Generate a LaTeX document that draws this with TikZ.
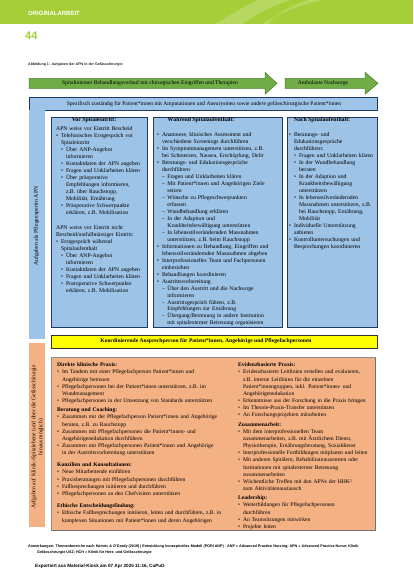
\documentclass[tikz,border=0pt]{standalone}
\usepackage{fontspec}
\setmainfont{Liberation Serif}
\setsansfont{Liberation Sans}
\definecolor{hdrgreen}{HTML}{A6CE39}
\definecolor{arrgreen}{HTML}{70AD47}
\definecolor{arrline}{HTML}{4E7A2E}
\definecolor{boxblue}{HTML}{9DC3E6}
\definecolor{blueline}{HTML}{1F3864}
\definecolor{boxorange}{HTML}{F4B183}
\definecolor{orangeline}{HTML}{8C8C8C}
\definecolor{baryellow}{HTML}{FFFF00}
\newcommand{\Ia}[1]{\par\noindent\hangindent=4.8pt\hangafter=1\makebox[4.8pt][l]{\textbullet}#1\par}
\newcommand{\Ib}[1]{\par\noindent\hangindent=9.8pt\hangafter=1\hspace*{5pt}\makebox[4.8pt][l]{\textbullet}#1\par}
\newcommand{\Ic}[1]{\par\noindent\hangindent=10.2pt\hangafter=1\hspace*{5pt}\makebox[5.2pt][l]{–}#1\par}
\newcommand{\nl}{\newline}
\tikzset{
  bluebox/.style={fill=boxblue, draw=blueline, line width=0.6pt},
  orangebox/.style={fill=boxorange, draw=orangeline, line width=0.4pt},
  arrowshape/.style={fill=arrgreen, draw=arrline, line width=0.5pt},
  btxt/.style={inner sep=0pt, anchor=base west, align=left, text width=#1, font=\fontsize{5.7}{6.98}\selectfont},
  otxt/.style={inner sep=0pt, anchor=base west, align=left, text width=#1, font=\fontsize{5.6}{7.15}\selectfont},
  boxhead/.style={inner sep=0pt, anchor=base, font=\bfseries\fontsize{5.8}{7.2}\selectfont},
  bartxt/.style={inner sep=0pt, font=\fontsize{5.6}{7}\selectfont},
  foot/.style={inner sep=0pt, anchor=base west, font=\sffamily\bfseries\fontsize{3.7}{4}\selectfont},
}
\begin{document}
\begin{tikzpicture}[x=1pt,y=-1pt]
\useasboundingbox (0,0) rectangle (413,585);
\fill[white] (0,0) rectangle (413,585);
% header
\fill[hdrgreen] (0,0) rectangle (413,24);
\fill[white, opacity=0.2] (215,24) .. controls (232,14) and (245,6) .. (258,0) -- (290,0) .. controls (272,6) and (255,15) .. (242,24) -- cycle;
\fill[white, opacity=0.2] (262,24) .. controls (282,12) and (300,5) .. (322,0) -- (308,0) .. controls (290,6) and (276,14) .. (268,24) -- cycle;
\node[anchor=west, inner sep=0pt, text=white, font=\sffamily\bfseries\fontsize{6}{6}\selectfont] (hdr) at (28,13.3) {ORIGINALARBEIT};
\node[anchor=west, inner sep=0pt, text=hdrgreen, font=\sffamily\bfseries\fontsize{11}{11}\selectfont] (pg) at (25,35.7) {44};
\node[anchor=west, inner sep=0pt, text=black!85, font=\sffamily\bfseries\fontsize{3.6}{4}\selectfont] (title) at (28,64.3) {Abbildung 1: Aufgaben der APN in der Gefässchirurgie};
% arrows
\draw[arrowshape] (29,78.3) -- (265,78.3) -- (265,72.3) -- (277,83.3) -- (265,94.3) -- (265,88.3) -- (29,88.3) -- cycle;
\node[bartxt] (a1) at (150,83.3) {Spitalinterner Behandlungsverlauf mit chirurgischen Eingriffen und Therapien};
\draw[arrowshape] (285,78.3) -- (365,78.3) -- (365,72.3) -- (378,83.3) -- (365,94.3) -- (365,88.3) -- (285,88.3) -- cycle;
\node[bartxt] (a2) at (323,83.3) {Ambulante Nachsorge};
% blue bar
\draw[bluebox, line width=0.4pt] (29,97) rectangle (377,110.5);
\draw[blueline, line width=0.8pt] (377,97) -- (377,110.5) -- (29,110.5);
\node[bartxt] (bb) at (204,103.7) {Spezifisch zuständig für Patient*innen mit Amputationen und Aneurysmen sowie andere gefässchirurgische Patient*innen};
% blue strip
\fill[boxblue] (29,110.5) rectangle (45,339);
\node[inner sep=0pt, rotate=90, font=\fontsize{5.8}{7.2}\selectfont] (bs) at (36.5,226) {Aufgaben als Pflegeexpertin APN};
% blue boxes
\draw[bluebox] (51,117) rectangle (147,327);
\draw[bluebox] (153,117) rectangle (282,327);
\draw[bluebox] (287,117) rectangle (377,327);
\node[boxhead] (lh) at (94,121.8) {Vor Spitaleintritt:};
\node[boxhead] (mh) at (201,121.8) {Während Spitalaufenthalt:};
\node[boxhead] (rh) at (322,121.8) {Nach Spitalaufenthalt:};
\node[btxt=92pt] (lb1) at (56,130.5) {APN weiss vor Eintritt Bescheid
\Ia{Telefonisches Erstgespräch vor\nl Spitaleintritt}
\Ib{Über ANP-Angebot\nl informieren}
\Ib{Kontaktdaten der APN angeben}
\Ib{Fragen und Unklarheiten klären}
\Ib{Über präoperative\nl Empfehlungen informieren,\nl z.B. über Rauchstopp,\nl Mobilität, Ernährung}
\Ib{Präoperative Schwerpunkte\nl erklären, z.B. Mobilisation}};
\node[btxt=92pt] (lb2) at (56,229.5) {APN weiss vor Eintritt nicht\nl Bescheid/notfallmässiger Eintritt:
\Ia{Erstgespräch während\nl Spitalaufenthalt}
\Ib{Über ANP-Angebot\nl informieren}
\Ib{Kontaktdaten der APN angeben}
\Ib{Fragen und Unklarheiten klären}
\Ib{Postoperative Schwerpunkte\nl erklären, z.B. Mobilisation}};
\node[btxt=128pt] (mb) at (157,129.5) {\Ia{Anamnese, klinisches Assessment und\nl verschiedene Screenings durchführen}
\Ia{Im Symptommanagement unterstützen, z.B.\nl bei Schmerzen, Nausea, Erschöpfung, Delir}
\Ia{Beratungs- und Edukationsgespräche\nl durchführen}
\Ic{Fragen und Unklarheiten klären}
\Ic{Mit Patient*innen und Angehörigen Ziele\nl setzen}
\Ic{Wünsche zu Pflegeschwerpunkten\nl erfassen}
\Ic{Wundbehandlung erklären}
\Ic{In der Adaption und\nl Krankheitsbewältigung unterstützen}
\Ic{In lebensstilverändernden Massnahmen\nl unterstützen, z.B. beim Rauchstopp}
\Ia{Informationen zu Behandlung, Eingriffen und\nl lebensstilverändernden Massnahmen abgeben}
\Ia{Interprofessionelles Team und Fachpersonen\nl einbeziehen}
\Ia{Behandlungen koordinieren}
\Ia{Austrittsvorbereitung}
\Ic{Über den Austritt und die Nachsorge\nl informieren}
\Ic{Austrittsgespräch führen, z.B.\nl Empfehlungen zur Ernährung}
\Ic{Übergang/Betreuung in andere Institution\nl mit spitalexterner Betreuung organisieren}};
\node[btxt=92pt] (rb) at (289,129.5) {\Ia{Beratungs- und\nl Edukationsgespräche\nl durchführen:}
\Ib{Fragen und Unklarheiten klären}
\Ib{In der Wundbehandlung\nl beraten}
\Ib{In der Adaption und\nl Krankheitsbewältigung\nl unterstützen}
\Ib{In lebensstilverändernden\nl Massnahmen unterstützen, z.B.\nl bei Rauchstopp, Ernährung,\nl Mobilität}
\Ia{Individuelle Unterstützung\nl anbieten}
\Ia{Kontrolluntersuchungen und\nl Besprechungen koordinieren}};
% yellow bar
\draw[fill=baryellow, draw=black!80, line width=0.5pt] (51,335) rectangle (377,348);
\node[bartxt, font=\bfseries\fontsize{5.6}{7}\selectfont] (yb) at (206,341.5) {Koordinierende Ansprechperson für Patient*innen, Angehörige und Pflegefachpersonen};
% orange strip and box
\fill[boxorange] (29,343) rectangle (45,527);
\node[inner sep=0pt, rotate=90, align=center, font=\fontsize{5.6}{7.2}\selectfont] (os) at (37.5,437) {Aufgaben auf Klinik-/Spitalebene (und über die Gefässchirurgie\\hinaus möglich)};
\draw[orangebox] (51,357) rectangle (375,530);
\draw[black!55, line width=0.9pt] (375.4,357.5) -- (375.4,530.4) -- (51.5,530.4);
\node[otxt=180pt] (o1) at (57,366.8) {\textbf{Direkte klinische Praxis:}
\Ia{Im Tandem mit einer Pflegefachperson Patient*innen und\nl Angehörige betreuen}
\Ia{Pflegefachpersonen bei der Patient*innen unterstützen, z.B. im\nl Wundmanagement}
\Ia{Pflegefachpersonen in der Umsetzung von Standards unterstützen}};
\node[otxt=180pt] (o2) at (57,411.8) {\textbf{Beratung und Coaching:}
\Ia{Zusammen mit der Pflegefachperson Patient*innen und Angehörige\nl beraten, z.B. zu Rauchstopp}
\Ia{Zusammen mit Pflegefachpersonen die Patient*innen- und\nl Angehörigenedukation durchführen}
\Ia{Zusammen mit Pflegefachpersonen Patient*innen und Angehörige\nl in der Austrittsvorbereitung unterstützen}};
\node[otxt=180pt] (o3) at (57,466.8) {\textbf{Konzilien und Konsultationen:}
\Ia{Neue Mitarbeitende einführen}
\Ia{Praxisberatungen mit Pflegefachpersonen durchführen}
\Ia{Fallbesprechungen initiieren und durchführen}
\Ia{Pflegefachpersonen an den Chefvisiten unterstützen}};
\node[otxt=180pt] (o4) at (57,507.8) {\textbf{Ethische Entscheidungsfindung:}
\Ia{Ethische Fallbesprechungen initiieren, leiten und durchführen, z.B. in\nl komplexen Situationen mit Patient*innen und deren Angehörigen}};
\node[otxt=136pt] (o5) at (238,366.8) {\textbf{Evidenzbasierte Praxis:}
\Ia{Evidenzbasierte Leitlinien erstellen und evaluieren,\nl z.B. interne Leitlinien für die einzelnen\nl Patient*innengruppen, inkl. Patient*innen- und\nl Angehörigenedukation}
\Ia{Erkenntnisse aus der Forschung in die Praxis bringen}
\Ia{Im Theorie-Praxis-Transfer unterstützen}
\Ia{An Forschungsprojekten mitarbeiten}};
\node[otxt=136pt] (o6) at (238,426.1) {\textbf{Zusammenarbeit:}
\Ia{Mit dem interprofessionellen Team\nl zusammenarbeiten, z.B. mit Ärztlichem Dienst,\nl Physiotherapie, Ernährungsberatung, Sozialdienst}
\Ia{Interprofessionelle Fortbildungen mitplanen und leiten}
\Ia{Mit anderen Spitälern, Rehabilitationszentren oder\nl Institutionen mit spitalexterner Betreuung\nl zusammenarbeiten}
\Ia{Wöchentliche Treffen mit den APNs der HHK²\nl zum Aktivitätenaustausch}};
\node[otxt=136pt] (o7) at (238,499.8) {\textbf{Leadership:}
\Ia{Weiterbildungen für Pflegefachpersonen\nl durchführen}
\Ia{An Teamsitzungen mitwirken}
\Ia{Projekte leiten}};
% footer
\node[foot] (f1) at (28,547.3) {Anmerkungen: Themenbereiche nach Hamric \& O'Grady (2019) | Entwicklung konzeptuelles Modell (PORI ANP) · ANP = Advanced Practice Nursing; APN = Advanced Practice Nurse; Klinik};
\node[foot] (f2) at (37,553.3) {Gefässchirurgie USZ; HCH = Klinik für Herz- und Gefässchirurgie};
\node[foot, font=\sffamily\bfseries\fontsize{4.6}{5}\selectfont] (f3) at (35,567.3) {Exportiert aus Material-Kiosk am 07 Apr 2025 11:16, CuPuG};
\end{tikzpicture}
\end{document}
